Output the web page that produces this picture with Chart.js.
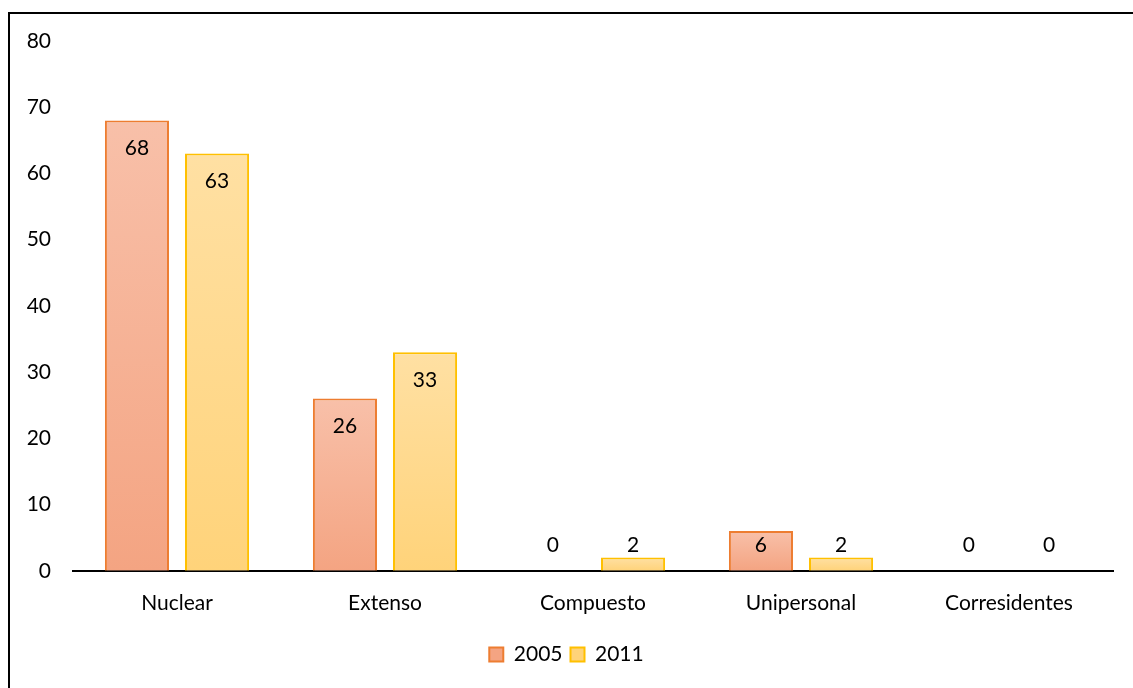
<!DOCTYPE html>
<html>
<head>
<meta charset="utf-8">
<script src="https://cdn.jsdelivr.net/npm/chart.js@4.4.1/dist/chart.umd.min.js"></script>
<style>
  html, body { margin: 0; padding: 0; background: #fff; }
  #frame { position: absolute; left: 8px; top: 12px; width: 1140px; height: 700px; border: 2px solid #000; box-sizing: border-box; }
  #wrap { position: absolute; left: 0; top: 0; width: 1133px; height: 688px; }
</style>
</head>
<body>
<div id="frame"></div>
<div id="wrap"><canvas id="chart"></canvas></div>
<script>
// Datos del gráfico
const categories = ['Nuclear', 'Extenso', 'Compuesto', 'Unipersonal', 'Corresidentes'];
const values2005 = [68, 26, 0, 6, 0];
const values2011 = [63, 33, 2, 2, 0];
const yTicks = [0, 10, 20, 30, 40, 50, 60, 70, 80];

const FONT = 'Lato, "Open Sans", sans-serif';
const FSIZE = 21;

// Degradado vertical por barra (más claro arriba)
function barGradient(topColor, bottomColor) {
    return (ctx) => {
        const chart = ctx.chart;
        const y = chart.scales.y;
        if (!y || ctx.raw === undefined) return bottomColor;
        const top = y.getPixelForValue(ctx.raw);
        const base = y.getPixelForValue(0);
        if (!isFinite(top) || !isFinite(base) || base - top < 1) return bottomColor;
        const g = chart.ctx.createLinearGradient(0, top, 0, base);
        g.addColorStop(0, topColor);
        g.addColorStop(1, bottomColor);
        return g;
    };
}

// Etiquetas de valor encima / dentro de cada barra
const valueLabels = {
    id: 'valueLabels',
    afterDatasetsDraw(chart) {
        const ctx = chart.ctx;
        const base = chart.scales.y.getPixelForValue(0);
        ctx.save();
        ctx.font = FSIZE + 'px ' + FONT;
        ctx.fillStyle = '#000';
        ctx.textAlign = 'center';
        ctx.textBaseline = 'middle';
        chart.data.datasets.forEach((ds, i) => {
            chart.getDatasetMeta(i).data.forEach((bar, j) => {
                const h = base - bar.y;
                const y = h < 56 ? base - 26 : bar.y + 28;
                ctx.fillText(String(ds.data[j]), bar.x, y);
            });
        });
        ctx.restore();
    }
};

new Chart(document.getElementById('chart'), {
    type: 'bar',
    data: {
        labels: categories,
        datasets: [
            {
                label: '2005',
                data: values2005,
                backgroundColor: barGradient('#F8C0A9', '#F4A482'),
                borderColor: '#ED7D31',
                borderWidth: 2,
                borderSkipped: 'bottom'
            },
            {
                label: '2011',
                data: values2011,
                backgroundColor: barGradient('#FFE0A3', '#FFD37A'),
                borderColor: '#FFC000',
                borderWidth: 2,
                borderSkipped: 'bottom'
            }
        ]
    },
    options: {
        responsive: true,
        maintainAspectRatio: false,
        animation: false,
        categoryPercentage: 0.77,
        barPercentage: 0.8,
        layout: { padding: { left: 20, right: 20, top: 41, bottom: 13 } },
        plugins: {
            legend: {
                position: 'bottom',
                labels: {
                    font: { family: FONT, size: FSIZE },
                    color: '#000',
                    boxWidth: 14,
                    boxHeight: 14,
                    padding: 8,
                    useBorderRadius: false
                }
            },
            tooltip: { enabled: false }
        },
        scales: {
            x: {
                grid: { display: false, drawTicks: false },
                border: { display: true, color: '#000', width: 2 },
                ticks: { font: { family: FONT, size: FSIZE }, color: '#000', padding: 20 }
            },
            y: {
                min: 0,
                max: 80,
                afterFit: (s) => { s.width = 53; },
                afterBuildTicks: (s) => { s.ticks = yTicks.map(v => ({ value: v })); },
                grid: { display: false, drawTicks: false },
                border: { display: false },
                ticks: { font: { family: FONT, size: FSIZE }, color: '#000', padding: 22 }
            }
        }
    },
    plugins: [valueLabels]
});
</script>
</body>
</html>
